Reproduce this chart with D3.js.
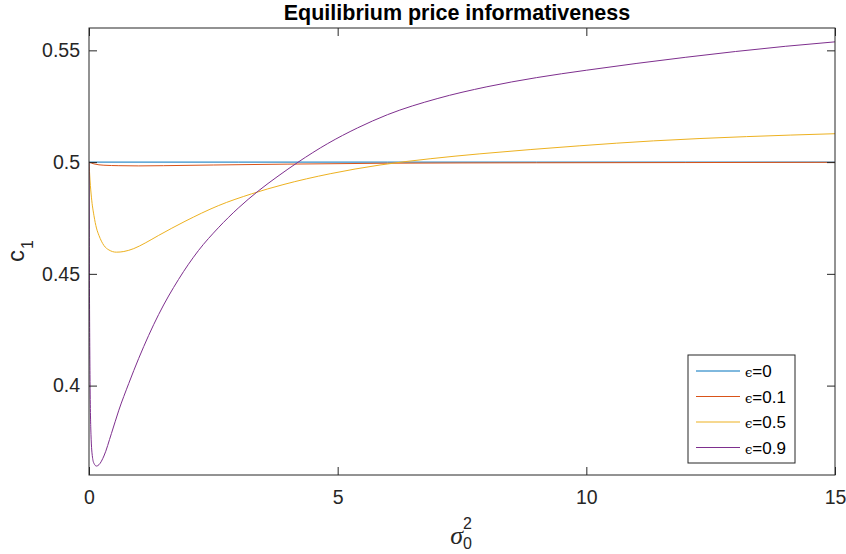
<!DOCTYPE html>
<html>
<head>
<meta charset="utf-8">
<script src="https://cdn.jsdelivr.net/npm/d3@7"></script>
<style>
  body { margin: 0; background: #fff; }
  svg { display: block; }
  text { font-family: "Liberation Sans", Arial, Helvetica, sans-serif; }
</style>
</head>
<body>
<svg id="chart" width="846" height="554"></svg>
<script>
// ---- data ----
const seriesNames = ["ϵ=0", "ϵ=0.1", "ϵ=0.5", "ϵ=0.9"];
const epsLabels = ["=0", "=0.1", "=0.5", "=0.9"];
const seriesColors = ["#0072BD", "#D95319", "#EDB120", "#7E2F8E"];

const xEps0 = [0, 3, 6, 9, 12, 15];
const yEps0 = [0.5, 0.5, 0.5, 0.5, 0.5, 0.5];

const xEps01 = [0, 0.1, 0.3, 0.6, 1, 1.5, 2.5, 4, 6, 9, 12, 15];
const yEps01 = [0.5, 0.4992, 0.4986, 0.4984, 0.4983, 0.4984, 0.4987, 0.4991, 0.4995, 0.4997, 0.4998, 0.4999];

const xEps05 = [0, 0.02, 0.05, 0.1, 0.15, 0.2, 0.3, 0.4, 0.55, 0.7, 0.9, 1.13, 1.4, 1.93, 2.6, 3.27, 3.9, 4.85, 5.85, 6.86, 7.86, 8.87, 9.87, 11.35, 13.22, 15];
const yEps05 = [0.5, 0.492, 0.484, 0.476, 0.4705, 0.4672, 0.4627, 0.4607, 0.4597, 0.4600, 0.4613, 0.4638, 0.4672, 0.4735, 0.4805, 0.4858, 0.4899, 0.4948, 0.4987, 0.5015, 0.5037, 0.5056, 0.5073, 0.5095, 0.5114, 0.5127];

const xEps09 = [0, 0.005, 0.01, 0.02, 0.04, 0.07, 0.1, 0.15, 0.2, 0.3, 0.45, 0.6, 0.8, 1.0, 1.4, 1.8, 2.2, 2.6, 3.0, 3.4, 3.8, 4.2, 4.8, 5.4, 6, 7, 8, 9, 10, 12, 14, 15];
const yEps09 = [0.5, 0.47, 0.44, 0.405, 0.378, 0.368, 0.3652, 0.3640, 0.3646, 0.3685, 0.3785, 0.3890, 0.4010, 0.4122, 0.4318, 0.4475, 0.4604, 0.4706, 0.4794, 0.4870, 0.4937, 0.4999, 0.5083, 0.5153, 0.5212, 0.5284, 0.5337, 0.5378, 0.5411, 0.5469, 0.5518, 0.5538];

const xTicks = [0, 5, 10, 15];
const xTickLabels = ["0", "5", "10", "15"];
const yTicks = [0.4, 0.45, 0.5, 0.55];
const yTickLabels = ["0.4", "0.45", "0.5", "0.55"];
const xDomain = [0, 15];
const yDomain = [0.36, 0.56];

const titleText = "Equilibrium price informativeness";

// ---- layout ----
const svg = d3.select("#chart");
const L = 89, R = 835, T = 28, B = 475;

const x = d3.scaleLinear().domain(xDomain).range([L, R]);
const y = d3.scaleLinear().domain(yDomain).range([B, T]);

const series = [
  { xs: xEps0, ys: yEps0 },
  { xs: xEps01, ys: yEps01 },
  { xs: xEps05, ys: yEps05 },
  { xs: xEps09, ys: yEps09 }
];

const line = d3.line()
  .x(d => x(d[0]))
  .y(d => y(d[1]))
  .curve(d3.curveMonotoneX);

svg.append("defs").append("clipPath").attr("id", "plotclip")
  .append("rect").attr("x", L).attr("y", T).attr("width", R - L).attr("height", B - T);

const plot = svg.append("g").attr("clip-path", "url(#plotclip)");
series.forEach((s, i) => {
  plot.append("path")
    .datum(s.xs.map((v, k) => [v, s.ys[k]]))
    .attr("fill", "none")
    .attr("stroke", seriesColors[i])
    .attr("stroke-width", 1)
    .attr("d", line);
});

// ---- axes (MATLAB style box with inward ticks) ----
const axisColor = "#262626";
const fmtX = (d, i) => xTickLabels[i];
const fmtY = (d, i) => yTickLabels[i];

const gB = svg.append("g").attr("transform", `translate(0,${B})`)
  .call(d3.axisBottom(x).tickValues(xTicks).tickFormat(fmtX).tickSizeInner(-8).tickSizeOuter(0).tickPadding(15));
const gT = svg.append("g").attr("transform", `translate(0,${T})`)
  .call(d3.axisTop(x).tickValues(xTicks).tickFormat("").tickSizeInner(-8).tickSizeOuter(0));
const gL = svg.append("g").attr("transform", `translate(${L},0)`)
  .call(d3.axisLeft(y).tickValues(yTicks).tickFormat(fmtY).tickSizeInner(-8).tickSizeOuter(0).tickPadding(9));
const gR = svg.append("g").attr("transform", `translate(${R},0)`)
  .call(d3.axisRight(y).tickValues(yTicks).tickFormat("").tickSizeInner(-8).tickSizeOuter(0));

[gB, gT, gL, gR].forEach(g => {
  g.select(".domain").remove();
  g.selectAll(".tick line").attr("stroke", axisColor).attr("stroke-width", 1);
  g.selectAll(".tick text")
    .attr("fill", axisColor)
    .style("font-family", '"Liberation Sans", Arial, sans-serif')
    .style("font-size", "19.5px");
});

// box
svg.append("rect")
  .attr("x", L).attr("y", T).attr("width", R - L).attr("height", B - T)
  .attr("fill", "none").attr("stroke", axisColor).attr("stroke-width", 1);

// ---- title ----
svg.append("text")
  .attr("x", 457).attr("y", 19.5)
  .attr("text-anchor", "middle")
  .style("font-weight", "bold")
  .style("font-size", "21.5px")
  .attr("fill", "#000")
  .text(titleText);

// ---- x label: sigma_0^2 ----
const cx = (L + R) / 2;
const xl = svg.append("g").attr("fill", axisColor);
xl.append("text")
  .attr("x", cx + 1).attr("y", 544)
  .attr("text-anchor", "end")
  .style("font-family", '"Liberation Serif", "DejaVu Serif", serif')
  .style("font-style", "italic")
  .style("font-size", "26px")
  .text("σ");
xl.append("text")
  .attr("x", cx + 1).attr("y", 529)
  .style("font-size", "16px")
  .text("2");
xl.append("text")
  .attr("x", cx + 1).attr("y", 549)
  .style("font-size", "16px")
  .text("0");

// ---- y label: c_1 ----
const yl = svg.append("g").attr("transform", `translate(24,251) rotate(-90)`).attr("fill", axisColor);
yl.append("text")
  .attr("x", -11).attr("y", 0)
  .style("font-size", "24px")
  .text("c");
yl.append("text")
  .attr("x", 2).attr("y", 9)
  .style("font-size", "16px")
  .text("1");

// ---- legend ----
const lg = svg.append("g");
lg.append("rect")
  .attr("x", 688).attr("y", 355).attr("width", 107).attr("height", 108)
  .attr("fill", "#fff").attr("stroke", axisColor).attr("stroke-width", 1);
const rowY = [371, 396.5, 422, 447.5];
seriesNames.forEach((name, i) => {
  lg.append("line")
    .attr("x1", 696).attr("x2", 740)
    .attr("y1", rowY[i]).attr("y2", rowY[i])
    .attr("stroke", seriesColors[i]).attr("stroke-width", 1);
  const t = lg.append("text")
    .attr("x", 745).attr("y", rowY[i] + 6)
    .attr("fill", "#000")
    .style("font-size", "17px");
  t.append("tspan")
    .style("font-family", '"DejaVu Serif", "Liberation Serif", serif')
    .style("font-size", "13px")
    .text("ϵ");
  t.append("tspan").text(epsLabels[i]);
});
</script>
</body>
</html>
